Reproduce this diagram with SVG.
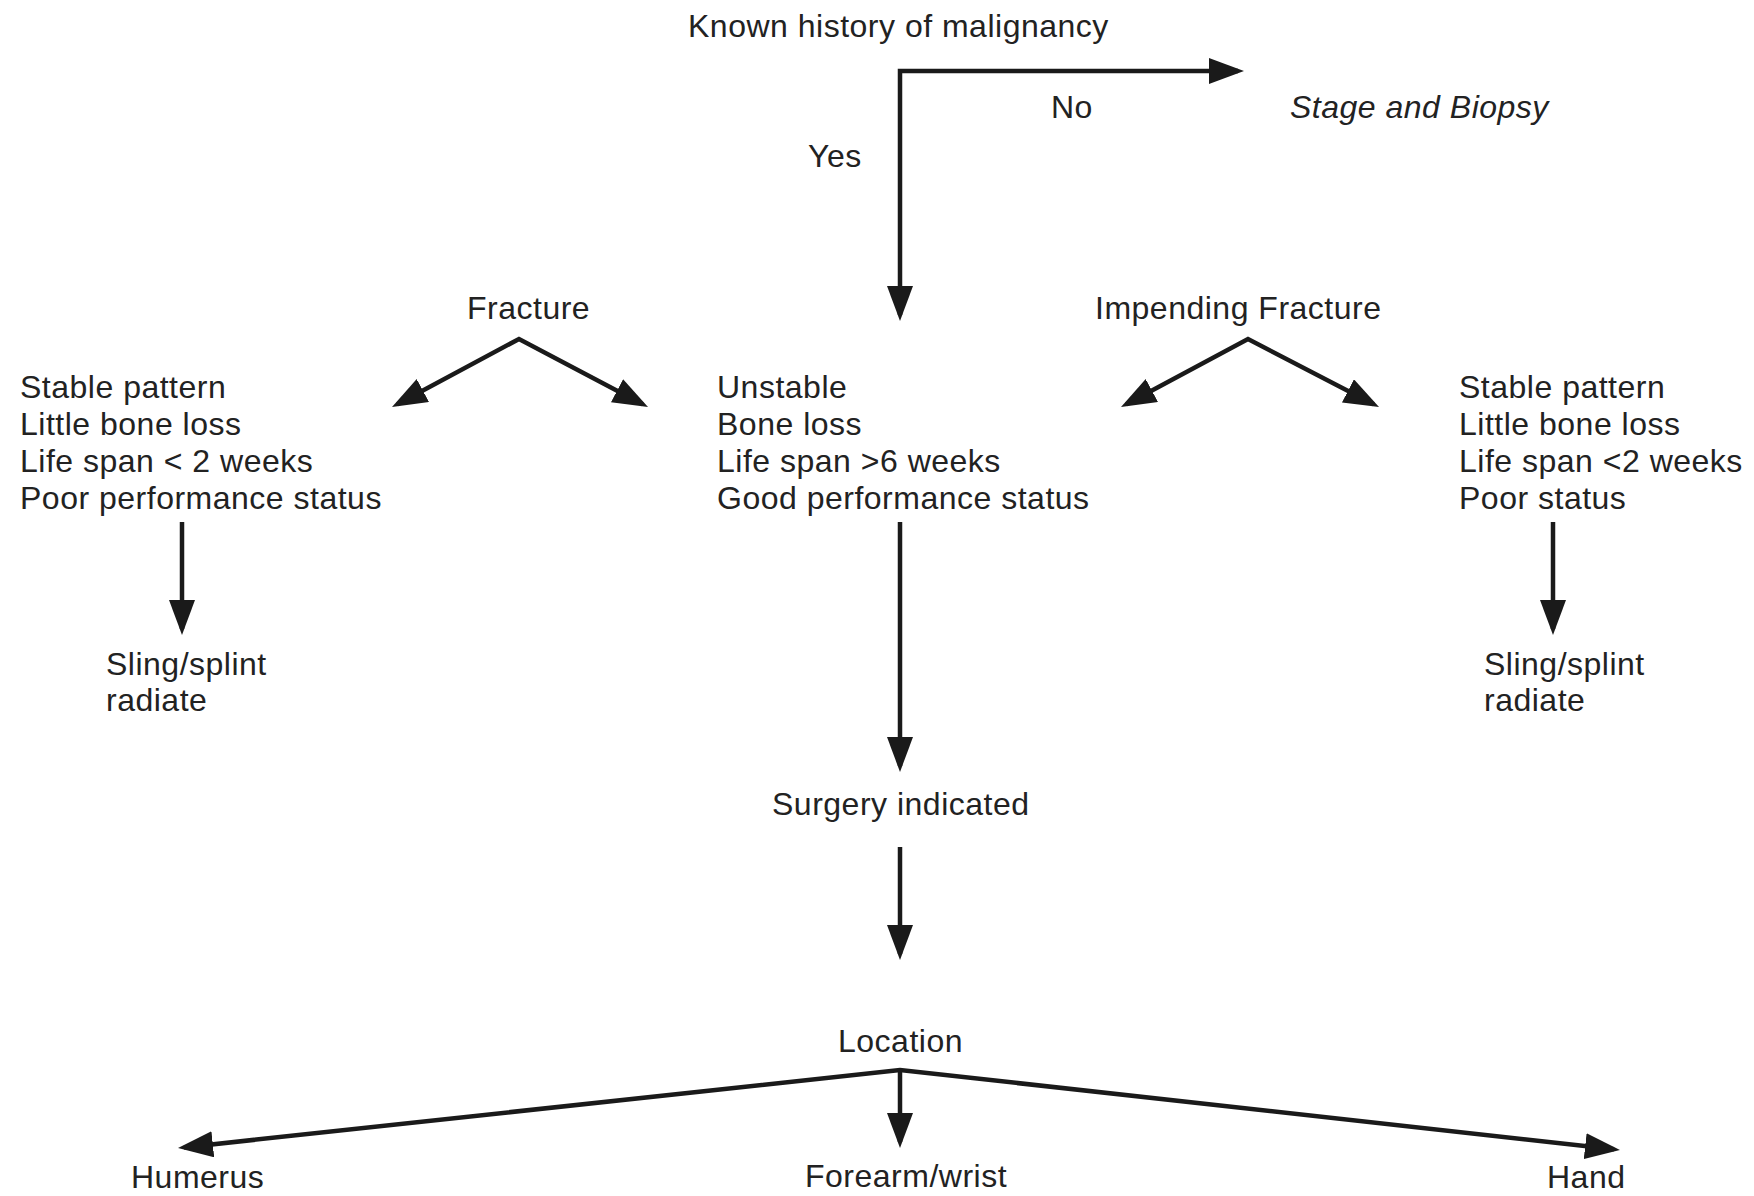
<svg xmlns="http://www.w3.org/2000/svg" width="1754" height="1196" viewBox="0 0 1754 1196">
<style>
text{font-family:"Liberation Sans",Arial,Helvetica,sans-serif;font-size:32px;letter-spacing:0.5px;fill:#222}
.it{font-style:italic}
.c{stroke:#1a1a1a;stroke-width:4.5;fill:none;stroke-linejoin:miter}
</style>
<defs>
<marker id="ah" markerUnits="userSpaceOnUse" markerWidth="38" markerHeight="28" refX="29" refY="13" orient="auto-start-reverse" viewBox="0 0 38 28">
<path d="M0,0 L35,13 L0,26 Z" fill="#1a1a1a"/>
</marker>
</defs>
<rect width="1754" height="1196" fill="#fff"/>
<g id="connectors">
<path class="c" d="M900,315 L900,71 L1238,71" marker-start="url(#ah)" marker-end="url(#ah)"/>
<path class="c" d="M397.3,404.2 L519,339 L642.7,404.2" marker-start="url(#ah)" marker-end="url(#ah)"/>
<path class="c" d="M1126.3,404.2 L1248,339 L1373.7,404.2" marker-start="url(#ah)" marker-end="url(#ah)"/>
<line class="c" x1="182" y1="522" x2="182" y2="629" marker-end="url(#ah)"/>
<line class="c" x1="1553" y1="522" x2="1553" y2="629" marker-end="url(#ah)"/>
<line class="c" x1="900" y1="522" x2="900" y2="766" marker-end="url(#ah)"/>
<line class="c" x1="900" y1="847" x2="900" y2="954" marker-end="url(#ah)"/>
<path class="c" d="M184,1147.4 L900,1070 L1614,1149.3" marker-start="url(#ah)" marker-end="url(#ah)"/>
<line class="c" x1="900" y1="1070" x2="900" y2="1142" marker-end="url(#ah)"/>
</g>
<g id="known"><text x="688" y="37">Known history of malignancy</text></g>
<g id="no"><text x="1051" y="118">No</text></g>
<g id="yes"><text x="808" y="167">Yes</text></g>
<g id="stage"><text class="it" x="1290" y="118">Stage and Biopsy</text></g>
<g id="fracture"><text x="467" y="319">Fracture</text></g>
<g id="impending"><text x="1095" y="319">Impending Fracture</text></g>
<g id="left-criteria">
<text x="20" y="398">Stable pattern</text>
<text x="20" y="435">Little bone loss</text>
<text x="20" y="472">Life span &lt; 2 weeks</text>
<text x="20" y="509">Poor performance status</text>
</g>
<g id="mid-criteria">
<text x="717" y="398">Unstable</text>
<text x="717" y="435">Bone loss</text>
<text x="717" y="472">Life span &gt;6 weeks</text>
<text x="717" y="509">Good performance status</text>
</g>
<g id="right-criteria">
<text x="1459" y="398">Stable pattern</text>
<text x="1459" y="435">Little bone loss</text>
<text x="1459" y="472">Life span &lt;2 weeks</text>
<text x="1459" y="509">Poor status</text>
</g>
<g id="left-sling">
<text x="106" y="675">Sling/splint</text>
<text x="106" y="711">radiate</text>
</g>
<g id="right-sling">
<text x="1484" y="675">Sling/splint</text>
<text x="1484" y="711">radiate</text>
</g>
<g id="surgery"><text x="772" y="815">Surgery indicated</text></g>
<g id="location"><text x="838" y="1052">Location</text></g>
<g id="humerus"><text x="131" y="1188">Humerus</text></g>
<g id="forearm"><text x="805" y="1187">Forearm/wrist</text></g>
<g id="hand"><text x="1547" y="1188">Hand</text></g>
</svg>
